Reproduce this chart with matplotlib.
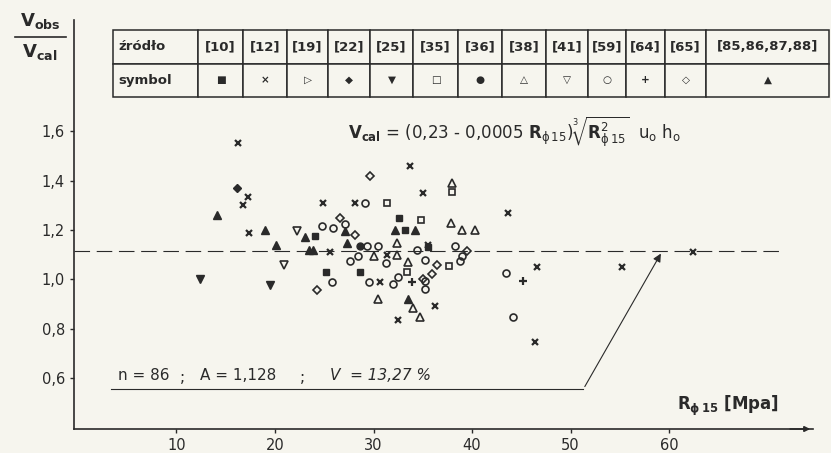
import matplotlib.pyplot as plt

# sources and their symbols (table on top)
sources = ['[10]', '[12]', '[19]', '[22]', '[25]', '[35]', '[36]', '[38]',
           '[41]', '[59]', '[64]', '[65]', '[85,86,87,88]']
symbols = ['■', '×', '▷', '◆', '▼', '□', '●', '△', '▽', '○', '+', '◇', '▲']

# points: (R_phi15 [MPa], Vobs/Vcal)
s10 = [(24.1, 1.175), (25.2, 1.03), (28.6, 1.028), (32.6, 1.25), (33.2, 1.20), (35.5, 1.13)]
s12 = [(16.2, 1.553), (17.3, 1.335), (16.8, 1.30), (17.4, 1.186), (24.9, 1.31),
       (28.1, 1.31), (33.7, 1.457), (25.6, 1.109), (30.7, 0.99), (31.4, 1.10),
       (35.0, 1.35), (43.6, 1.27), (35.5, 1.141), (36.2, 0.89), (32.5, 0.834),
       (46.6, 1.048), (46.4, 0.745), (55.2, 1.048), (62.4, 1.11)]
s19 = []
s22 = [(16.1, 1.37)]
s25 = [(12.4, 1.0), (19.5, 0.976)]
s35 = [(31.4, 1.31), (34.8, 1.24), (33.4, 1.03), (38.0, 1.355), (37.7, 1.053)]
s36 = [(28.6, 1.133)]
s38 = [(30.0, 1.095), (32.4, 1.147), (32.4, 1.097), (33.5, 1.07), (38.0, 1.39),
       (37.9, 1.23), (39.0, 1.198), (40.3, 1.198), (30.5, 0.919), (34.0, 0.882),
       (34.7, 0.846)]
s41 = [(22.2, 1.194), (20.9, 1.06)]
s59 = [(29.1, 1.31), (24.8, 1.215), (25.9, 1.206), (27.1, 1.222), (29.3, 1.133),
       (30.5, 1.133), (27.6, 1.073), (28.4, 1.095), (31.3, 1.068), (34.4, 1.12),
       (25.8, 0.99), (29.5, 0.988), (32.0, 0.98), (32.5, 1.01), (35.2, 1.08),
       (38.3, 1.133), (39.0, 1.093), (38.8, 1.075), (35.2, 0.992), (35.2, 0.96),
       (43.4, 1.024), (44.2, 0.846)]
s64 = [(33.9, 0.99), (45.2, 0.992)]
s65 = [(29.6, 1.42), (26.6, 1.25), (28.1, 1.18), (24.3, 0.956), (35.0, 1.0),
       (39.5, 1.113), (36.4, 1.06), (35.9, 1.02)]
s85 = [(14.1, 1.26), (19.0, 1.20), (20.1, 1.14), (23.0, 1.17), (23.4, 1.117),
       (23.9, 1.117), (27.1, 1.194), (27.3, 1.149), (32.2, 1.20), (34.2, 1.20),
       (33.5, 0.919)]

A_line = 1.114
xticks = [10, 20, 30, 40, 50, 60]
yticks = [0.6, 0.8, 1.0, 1.2, 1.4, 1.6]

ink = '#2a2a2a'
bg = '#f6f5ee'
plt.rcParams['mathtext.default'] = 'regular'

W, H = 831, 453
fig = plt.figure(figsize=(W / 100, H / 100), dpi=100, facecolor=bg)
ax = fig.add_axes([74 / W, 24 / H, 739 / W, 409 / H])
ax.set_facecolor(bg)
ax.set_xlim(-0.4, 74.6)
ax.set_ylim(0.394, 2.05)

# marker styles: (points, marker, filled, size, edge width)
styles = [
    (s10, 's', True, 4.5, 1.0),
    (s12, 'x', True, 4.5, 1.6),
    (s19, '>', False, 5, 1.1),
    (s22, 'D', True, 4.5, 1.0),
    (s25, 'v', True, 6, 1.0),
    (s35, 's', False, 4.5, 1.2),
    (s36, 'o', True, 5, 1.0),
    (s38, '^', False, 5.5, 1.2),
    (s41, 'v', False, 5.5, 1.2),
    (s59, 'o', False, 5, 1.2),
    (s64, '+', True, 6, 1.6),
    (s65, 'D', False, 4.2, 1.2),
    (s85, '^', True, 6, 1.0),
]
for pts, mk, filled, ms, mew in styles:
    if not pts:
        continue
    xs = [p[0] for p in pts]
    ys = [p[1] for p in pts]
    ax.plot(xs, ys, linestyle='none', marker=mk, ms=ms, mew=mew,
            mec=ink, mfc=ink if filled else 'none', zorder=3)

# dashed mean line
ax.plot([-0.4, 71.6], [A_line, A_line], color=ink, lw=0.8, dashes=(14, 6), zorder=2)

# underline of statistics and arrow to the mean line
ax.plot([3.35, 51.3], [0.556, 0.556], color=ink, lw=0.8)
ax.annotate('', xy=(59.3, A_line), xytext=(51.3, 0.556),
            arrowprops=dict(arrowstyle='-|>', color=ink, lw=0.8, mutation_scale=12))

# axes
for s in ['top', 'right']:
    ax.spines[s].set_visible(False)
for s in ['left', 'bottom']:
    ax.spines[s].set_color(ink)
    ax.spines[s].set_linewidth(1.2)
ax.annotate('', xy=(74.6, 0.394), xytext=(72.0, 0.394),
            arrowprops=dict(arrowstyle='-|>', color=ink, lw=1.2, mutation_scale=8),
            annotation_clip=False)
ax.set_xticks(xticks)
ax.set_xticklabels([str(t) for t in xticks])
ax.set_yticks(yticks)
ax.set_yticklabels([('%.1f' % t).replace('.', ',') for t in yticks])
ax.tick_params(colors=ink, labelsize=10.5, length=3, width=1)

# table of sources
tab = ax.table(cellText=[['źródło'] + sources, ['symbol'] + symbols],
               colWidths=[85, 45, 44, 41, 42, 43, 45, 44, 44, 42, 38, 39, 41, 123],
               cellLoc='center', bbox=[39 / 739, 332 / 409, 716 / 739, 67 / 409])
tab.auto_set_font_size(False)
tab.set_fontsize(9.5)
for (r, c), cell in tab.get_celld().items():
    cell.set_edgecolor(ink)
    cell.set_linewidth(1.1)
    cell.set_facecolor(bg)
    cell.get_text().set_color(ink)
    cell.get_text().set_fontweight('bold')
    if r == 1 and c > 0:
        cell.get_text().set_fontsize(7.5)
    if c == 0:
        cell.get_text().set_ha('left')
        cell.PAD = 0.06

def ftext(x, y, s, **kw):
    fig.text(x / W, 1 - y / H, s, color=ink, **kw)

# y-axis label as a fraction
ftext(40, 21, r'$\mathbf{V_{obs}}$', fontsize=13, ha='center', va='center')
fig.add_artist(plt.Line2D([15 / W, 66 / W], [1 - 37 / H, 1 - 37 / H], color=ink, lw=1.2))
ftext(40, 52, r'$\mathbf{V_{cal}}$', fontsize=13, ha='center', va='center')

# formula
ftext(348, 132, r'$\mathbf{V_{cal}}$ = (0,23 - 0,0005 $\mathbf{R}_{\phi\,15}$)'
      r'$\sqrt[3]{\mathbf{R}^{2}_{\phi\,15}}$  $u_o\ h_o$',
      fontsize=12, ha='left', va='center')

# statistics
ftext(118, 375, 'n = 86', fontsize=11, va='center')
ftext(180, 378, ';', fontsize=11, va='center')
ftext(200, 375, 'A = 1,128', fontsize=11, va='center')
ftext(300, 378, ';', fontsize=11, va='center')
ftext(330, 375, 'V  = 13,27 %', fontsize=11, va='center', style='italic')

# x-axis label
ftext(677, 406, r'$\mathbf{R}_{\phi\,15}$ [Mpa]', fontsize=12, va='center', fontweight='bold')

fig.savefig('out.png', dpi=100, facecolor=bg)
